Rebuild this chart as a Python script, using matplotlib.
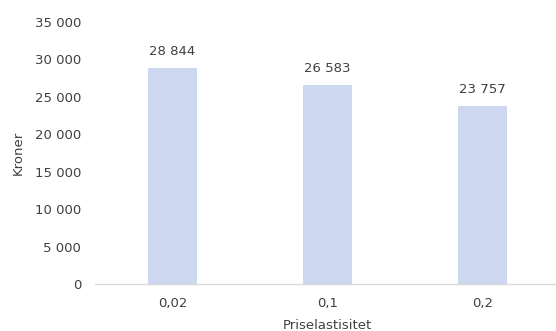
import numpy as np
import matplotlib.pyplot as plt
from matplotlib.ticker import FuncFormatter

# data
categories = ["0,02", "0,1", "0,2"]
values = [28844, 26583, 23757]
y_ticks = [0, 5000, 10000, 15000, 20000, 25000, 30000, 35000]

bar_color = "#CDD8F0"
text_color = "#404040"

def space_thousands(v, pos=None):
    return f"{int(v):,}".replace(",", " ")

plt.rcParams['font.family'] = ['DejaVu Sans']

fig = plt.figure(figsize=(5.56, 3.31), dpi=100)
# plot area runs slightly past the right edge in the reference
ax = fig.add_axes([95 / 556, 47 / 331, 465 / 556, 262 / 331])

x = np.arange(len(categories))
ax.bar(x, values, width=0.316, color=bar_color)

for xi, v in zip(x, values):
    ax.annotate(space_thousands(v), (xi, v), xytext=(0, 7), textcoords="offset points",
                ha="center", va="bottom", fontsize=9.5, color=text_color)

ax.set_xlim(-0.5, 2.5)
ax.set_ylim(0, 35000)
ax.set_yticks(y_ticks)
ax.yaxis.set_major_formatter(FuncFormatter(space_thousands))
ax.set_xticks(x)
ax.set_xticklabels(categories)

for side in ["top", "right", "left"]:
    ax.spines[side].set_visible(False)
ax.spines["bottom"].set_color("#D9D9D9")
ax.spines["bottom"].set_linewidth(1.0)

ax.tick_params(axis="both", length=0, labelsize=9.5, colors=text_color)
ax.tick_params(axis="y", pad=10)
ax.tick_params(axis="x", pad=9)

ax.set_ylabel("Kroner", fontsize=9.5, color=text_color, labelpad=7)
ax.set_xlabel("Priselastisitet", fontsize=9.5, color=text_color, labelpad=7)

fig.savefig("out.png", dpi=100)
